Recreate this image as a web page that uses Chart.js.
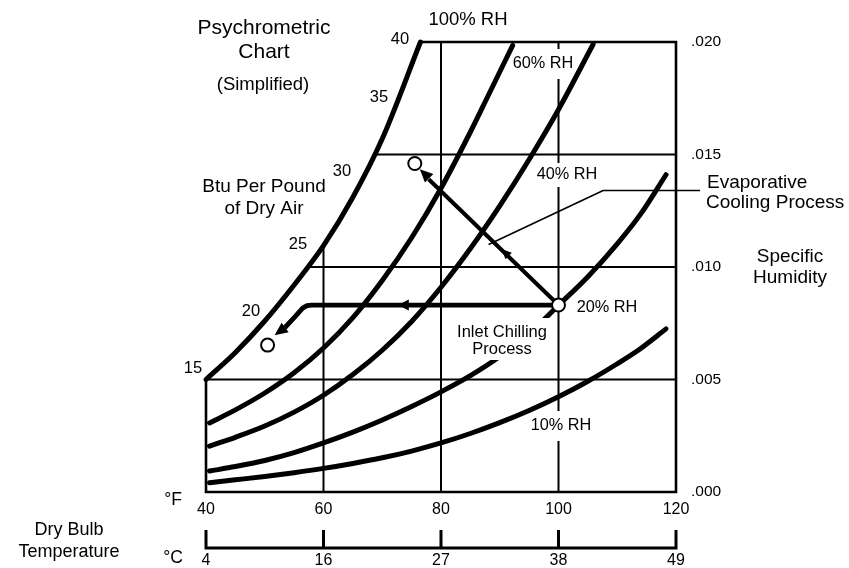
<!DOCTYPE html>
<html>
<head>
<meta charset="utf-8">
<script src="https://cdn.jsdelivr.net/npm/chart.js@4.4.1/dist/chart.umd.min.js"></script>
<style>
  html, body { margin: 0; padding: 0; background: #fff; }
  canvas { display: block; }
</style>
</head>
<body>
<canvas id="psy" width="849" height="568"></canvas>
<script>
// dry bulb ticks (F) with the matching C labels, humidity ratio ticks
var fTicks = [40, 60, 80, 100, 120];
var cLabels = ['4', '16', '27', '38', '49'];
var wTickLabels = ['.000', '.005', '.010', '.015', '.020'];

// RH curves, dry bulb (F) vs humidity ratio (lb/lb dry air)
var rh100T = [40, 45, 50, 55, 60, 65, 70, 76.5];
var rh100W = [.00500, .00620, .00760, .00920, .01095, .01310, .01570, .02000];
var rh60T = [40.6, 45, 50, 55, 60, 65, 70, 75, 80, 85, 88, 92.2];
var rh60W = [.00307, .00365, .00440, .00530, .00640, .00775, .00940, .01130, .01350, .01600, .01760, .01985];
var rh40T = [40.6, 45, 50, 55, 60, 65, 70, 75, 80, 85, 90, 95, 100, 105.9];
var rh40W = [.00204, .00243, .00293, .00355, .00430, .00522, .00630, .00758, .00910, .01082, .01272, .01478, .01700, .01990];
var rh20T = [40.6, 45, 50, 55, 60, 65, 70, 75, 80, 85, 90, 95, 100, 105, 110, 114, 118.3];
var rh20W = [.00093, .00113, .00140, .00175, .00218, .00266, .00320, .00380, .00445, .00517, .00602, .00704, .00830, .00957, .01103, .01236, .01410];
var rh10T = [40.6, 45, 50, 55, 60, 65, 70, 75, 80, 85, 90, 95, 100, 105, 110, 114, 118.3];
var rh10W = [.00041, .00054, .00069, .00086, .00105, .00127, .00152, .00182, .00218, .00260, .00308, .00362, .00423, .00492, .00570, .00638, .00725];

// grid segments: humidity lines start on the saturation curve
var gridW = [.005, .010, .015];
var gridWStart = [40, 57.6, 68.7];
var gridT = [60, 80, 100];
var gridTTop = [.0109, .020, .020];

// chart frame
var frameT = [40, 40, 120, 120, 76.5];
var frameW = [.005, 0, 0, .020, .020];

// processes
var chillT = [100, 58.0, 57.2, 56.45, 55.09, 53.4];
var chillW = [.00831, .00831, .00828, .00817, .00777, .0073];
var evapT = [100, 77.9];
var evapW = [.00831, .0139];
var stateT = [100, 75.54, 50.48];
var stateW = [.00831, .0146, .00653];
var calloutT = [124.1, 107.6, 88.1];
var calloutW = [.0134, .0134, .0110];

function pts(xs, ys) {
    return xs.map(function (x, i) { return {x: x, y: ys[i]}; });
}

var FONT = '"Liberation Sans", Arial, Helvetica, sans-serif';

function line(data, width, order, extra) {
    var ds = {
        type: 'line',
        data: data,
        borderColor: '#000',
        borderWidth: width,
        pointRadius: 0,
        fill: false,
        tension: 0,
        clip: false,
        order: order,
        borderCapStyle: 'round',
        borderJoinStyle: 'round'
    };
    for (var k in extra) ds[k] = extra[k];
    return ds;
}

var datasets = [];
datasets.push({
    type: 'scatter',
    data: pts(stateT, stateW),
    pointRadius: 6.5,
    pointBackgroundColor: '#fff',
    pointBorderColor: '#000',
    pointBorderWidth: 2,
    clip: false,
    order: 0
});
datasets.push(line(pts(evapT, evapW), 4, 1, {borderCapStyle: 'butt'}));
datasets.push(line(pts(chillT, chillW), 4.8, 1, {borderCapStyle: 'butt'}));
datasets.push(line(pts(calloutT, calloutW), 1.6, 1, {borderCapStyle: 'butt'}));
[[rh100T, rh100W], [rh60T, rh60W], [rh40T, rh40W], [rh20T, rh20W], [rh10T, rh10W]].forEach(function (c) {
    datasets.push(line(pts(c[0], c[1]), 5, 2, {cubicInterpolationMode: 'monotone'}));
});
gridW.forEach(function (w, i) {
    datasets.push(line(pts([gridWStart[i], 120], [w, w]), 1.8, 3, {borderCapStyle: 'butt'}));
});
gridT.forEach(function (t, i) {
    datasets.push(line(pts([t, t], [0, gridTTop[i]]), 2, 3, {borderCapStyle: 'butt'}));
});
datasets.push(line(pts(frameT, frameW), 2.6, 3, {borderCapStyle: 'square', borderJoinStyle: 'miter'}));

// arrow heads along the process lines
var arrows = [
    {tip: [76.4, .01435], from: [100, .00831], len: 13, half: 6},
    {tip: [90.3, .0108], from: [100, .00831], len: 10, half: 4.5},
    {tip: [72.65, .00831], from: [100, .00831], len: 11, half: 5.5},
    {tip: [51.68, .00697], from: [53.4, .0073], len: 13, half: 6}
];

// gap: the label breaks the 100 F grid line over +-gap px
var labels = [
    {t: 'Psychrometric', x: 264, y: 28, s: 21},
    {t: 'Chart', x: 264, y: 52, s: 21},
    {t: '(Simplified)', x: 263, y: 85, s: 18.5},
    {t: '100% RH', x: 468, y: 20, s: 18.5},
    {t: '40', x: 400, y: 39, s: 16.5},
    {t: '35', x: 379, y: 97, s: 16.5},
    {t: '30', x: 342, y: 171, s: 16.5},
    {t: '25', x: 298, y: 244, s: 16.5},
    {t: '20', x: 251, y: 311, s: 16.5},
    {t: '15', x: 193, y: 368, s: 16.5},
    {t: 'Btu Per Pound', x: 264, y: 187, s: 19},
    {t: 'of Dry Air', x: 264, y: 209, s: 19},
    {t: '60% RH', x: 543, y: 64, s: 16.3, gap: 15},
    {t: '40% RH', x: 567, y: 175, s: 16.3, gap: 12},
    {t: '20% RH', x: 607, y: 308, s: 16.3},
    {t: '10% RH', x: 561, y: 426, s: 16.3, gap: 15},
    {t: 'Evaporative', x: 707, y: 183, s: 19, a: 'left'},
    {t: 'Cooling Process', x: 706, y: 203, s: 19, a: 'left'},
    {t: 'Specific', x: 790, y: 257, s: 19},
    {t: 'Humidity', x: 790, y: 278, s: 19},
    {t: '\u00b0F', x: 173, y: 500, s: 17.5},
    {t: '\u00b0C', x: 173, y: 558, s: 17.5},
    {t: 'Dry Bulb', x: 69, y: 530, s: 18},
    {t: 'Temperature', x: 69, y: 552, s: 18}
];
var chillLabel = {lines: ['Inlet Chilling', 'Process'], x: 502, y: 332, s: 16.5, gap: 17};

var decor = {
    id: 'decor',
    afterDatasetsDraw: function (chart) {
        var c = chart.ctx, sx = chart.scales.x, sy = chart.scales.y;
        c.save();
        // arrows
        c.fillStyle = '#000';
        arrows.forEach(function (a) {
            var tx = sx.getPixelForValue(a.tip[0]), ty = sy.getPixelForValue(a.tip[1]);
            var fx = sx.getPixelForValue(a.from[0]), fy = sy.getPixelForValue(a.from[1]);
            var dx = tx - fx, dy = ty - fy, d = Math.sqrt(dx * dx + dy * dy);
            dx /= d; dy /= d;
            var bx = tx - dx * a.len, by = ty - dy * a.len;
            c.beginPath();
            c.moveTo(tx, ty);
            c.lineTo(bx - dy * a.half, by + dx * a.half);
            c.lineTo(bx + dy * a.half, by - dx * a.half);
            c.closePath();
            c.fill();
        });
        // text
        var g100 = sx.getPixelForValue(100);
        c.textBaseline = 'middle';
        labels.forEach(function (l) {
            c.font = l.s + 'px ' + FONT;
            c.textAlign = l.a || 'center';
            if (l.gap) {
                c.fillStyle = '#fff';
                c.fillRect(g100 - 3, l.y - l.gap, 6, 2 * l.gap);
            }
            c.fillStyle = '#000';
            c.fillText(l.t, l.x, l.y);
        });
        c.font = chillLabel.s + 'px ' + FONT;
        c.textAlign = 'center';
        c.fillStyle = '#fff';
        c.fillRect(chillLabel.x - 50, chillLabel.y - 14, 100, 42);
        c.fillStyle = '#000';
        chillLabel.lines.forEach(function (t, i) {
            c.fillText(t, chillLabel.x, chillLabel.y + i * chillLabel.gap);
        });
        // Celsius scale under the chart
        var x0 = sx.getPixelForValue(fTicks[0]), x1 = sx.getPixelForValue(fTicks[fTicks.length - 1]);
        c.lineWidth = 3;
        c.strokeStyle = '#000';
        c.lineCap = 'butt';
        c.beginPath();
        c.moveTo(x0 - 1.5, 548);
        c.lineTo(x1 + 1.5, 548);
        fTicks.forEach(function (f) {
            var px = sx.getPixelForValue(f);
            c.moveTo(px, 549.5);
            c.lineTo(px, 530);
        });
        c.stroke();
        c.font = '16px ' + FONT;
        fTicks.forEach(function (f, i) {
            c.fillText(cLabels[i], sx.getPixelForValue(f), 561);
        });
        c.restore();
    }
};

var ctx = document.getElementById('psy');
var psyChart = new Chart(ctx, {
    type: 'scatter',
    data: {datasets: datasets},
    options: {
        responsive: false,
        animation: false,
        layout: {padding: {left: 206, top: 42, right: 0, bottom: 0}},
        plugins: {legend: {display: false}, tooltip: {enabled: false}},
        scales: {
            x: {
                type: 'linear',
                min: 40,
                max: 120,
                grid: {display: false, drawTicks: false},
                border: {display: false},
                ticks: {
                    stepSize: 20,
                    padding: 8,
                    color: '#000',
                    font: {family: FONT, size: 16},
                    callback: function (v, i) { return String(fTicks[i]); }
                },
                afterFit: function (s) { s.height = 76; }
            },
            y: {
                type: 'linear',
                position: 'right',
                min: 0,
                max: 0.02,
                grid: {display: false, drawTicks: false},
                border: {display: false},
                ticks: {
                    stepSize: 0.005,
                    padding: 15,
                    color: '#000',
                    font: {family: FONT, size: 15.5},
                    callback: function (v, i) { return wTickLabels[i]; }
                },
                afterFit: function (s) { s.width = 173; }
            }
        }
    },
    plugins: [decor]
});
</script>
</body>
</html>
